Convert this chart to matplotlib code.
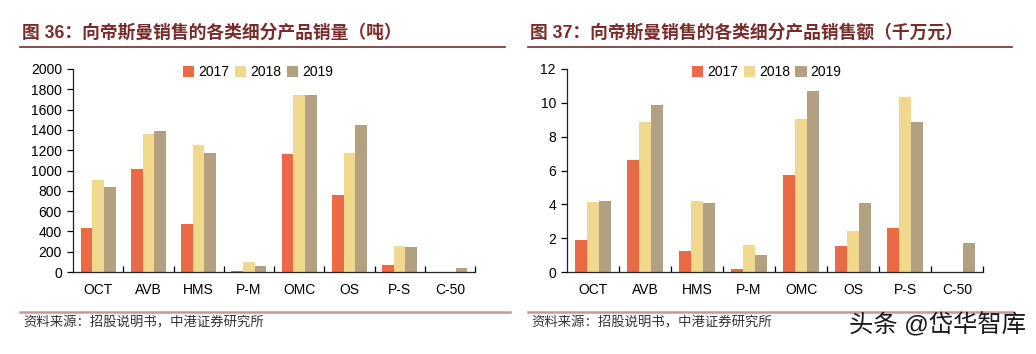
"""Two grouped bar charts: DSM sales volume and revenue by product segment."""
import numpy as np
import matplotlib
matplotlib.use("Agg")
import matplotlib.pyplot as plt
from matplotlib.lines import Line2D

plt.rcParams["font.family"] = ["Liberation Sans", "Noto Sans CJK SC", "DejaVu Sans"]

CATEGORIES = ["OCT", "AVB", "HMS", "P-M", "OMC", "OS", "P-S", "C-50"]
YEARS = ["2017", "2018", "2019"]

# Sales volume (tonnes)
VOLUME_2017 = [430, 1015, 470, 10, 1165, 755, 65, 0]
VOLUME_2018 = [905, 1355, 1250, 100, 1745, 1170, 255, 0]
VOLUME_2019 = [840, 1385, 1170, 55, 1745, 1445, 250, 35]

# Sales revenue (10 million yuan)
REVENUE_2017 = [1.9, 6.65, 1.25, 0.2, 5.75, 1.55, 2.6, 0]
REVENUE_2018 = [4.15, 8.85, 4.2, 1.6, 9.05, 2.4, 10.35, 0]
REVENUE_2019 = [4.2, 9.9, 4.1, 1.0, 10.7, 4.1, 8.85, 1.7]

TITLE_LEFT = "图 36：向帝斯曼销售的各类细分产品销量（吨）"
TITLE_RIGHT = "图 37：向帝斯曼销售的各类细分产品销售额（千万元）"
SOURCE = "资料来源：招股说明书，中港证券研究所"
WATERMARK = "头条 @岱华智库"

COLORS = ["#EA6A43", "#F0D98C", "#B3A081"]
TITLE_COLOR = "#7A2C2C"

W, H = 1036, 354
fig = plt.figure(figsize=(W / 100, H / 100), dpi=100)


def px_axes(x0, x1, ytop, ybot):
    """Axes placed by pixel edges measured from the top-left corner."""
    return fig.add_axes([x0 / W, (H - ybot) / H, (x1 - x0) / W, (ybot - ytop) / H])


def draw_bars(ax, series, ymax, ystep, legend_x):
    x = np.arange(len(CATEGORIES))
    width = 0.233
    for i, (vals, year) in enumerate(zip(series, YEARS)):
        ax.bar(x + (i - 1) * width, vals, width, color=COLORS[i], label=year)
    ax.set_xlim(-0.5, len(CATEGORIES) - 0.5)
    ax.set_ylim(0, ymax)
    ax.set_yticks(np.arange(0, ymax + ystep / 2, ystep))
    ax.set_xticks(x)
    ax.set_xticklabels(CATEGORIES)
    ax.set_xticks(np.arange(0.5, len(CATEGORIES), 1), minor=True)
    ax.tick_params(axis="x", which="major", length=0, pad=8, labelsize=10)
    ax.tick_params(axis="x", which="minor", direction="in", length=4, width=0.9)
    ax.tick_params(axis="y", direction="out", length=4, width=0.9, labelsize=10, pad=4)
    for side in ("top", "right"):
        ax.spines[side].set_visible(False)
    for side in ("left", "bottom"):
        ax.spines[side].set_linewidth(0.9)
        ax.spines[side].set_color("#222222")
    ax.legend(loc="upper center", bbox_to_anchor=(legend_x, 1.045), ncol=3, frameon=False,
              fontsize=10, handlelength=0.8, handleheight=0.8, handletextpad=0.3,
              columnspacing=0.4, borderaxespad=0)


ax1 = px_axes(73, 475, 69, 272)
draw_bars(ax1, [VOLUME_2017, VOLUME_2018, VOLUME_2019], 2000, 200, 0.46)

ax2 = px_axes(567, 983, 69, 272)
draw_bars(ax2, [REVENUE_2017, REVENUE_2018, REVENUE_2019], 12, 2, 0.48)

# Titles with underline
for tx, tx0, x0, x1 in [(TITLE_LEFT, 22, 20, 505), (TITLE_RIGHT, 530, 528, 1012)]:
    fig.text(tx0 / W, (H - 33) / H, tx, fontsize=12.8, fontweight="bold",
             color=TITLE_COLOR, va="center", ha="left")
    fig.add_artist(Line2D([x0 / W, x1 / W], [(H - 47) / H] * 2, color=TITLE_COLOR, lw=1.2))

# Source lines
for x0, x1 in [(20, 510), (528, 1012)]:
    fig.add_artist(Line2D([x0 / W, x1 / W], [(H - 312) / H] * 2, color="#C49A96", lw=1.8))
    fig.text((x0 + 3) / W, (H - 323) / H, SOURCE, fontsize=9.6, color="#333333",
             va="center", ha="left", style="italic")

fig.text(1026 / W, (H - 325) / H, WATERMARK, fontsize=17.5, color="#1a1a1a",
         va="center", ha="right")

fig.savefig("out.png", dpi=100)
